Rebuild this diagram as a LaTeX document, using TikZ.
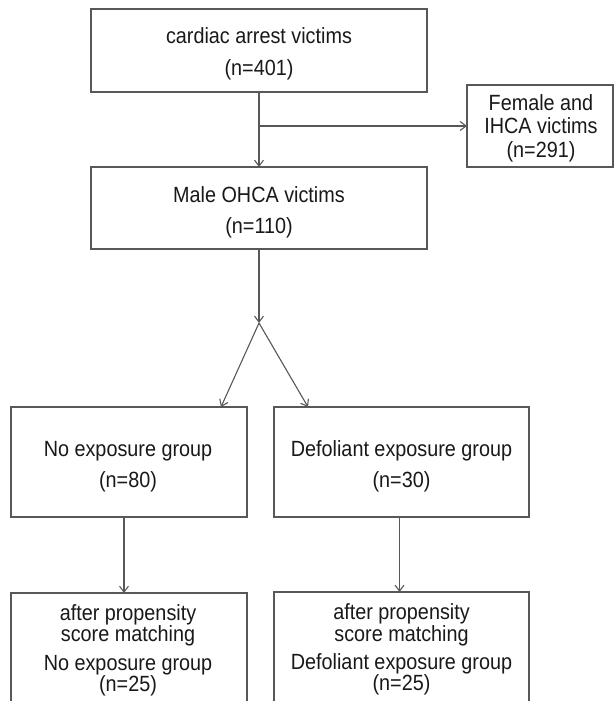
\documentclass[tikz,border=0pt]{standalone}
\usepackage{fontspec}
\setmainfont{Liberation Sans}[FakeStretch=0.9]
\usetikzlibrary{arrows.meta}
\definecolor{linegray}{RGB}{88,88,88}
\definecolor{textcol}{RGB}{25,25,25}
\begin{document}
\begin{tikzpicture}[x=1pt,y=-1pt,
  box/.style={draw=linegray, line width=1.2pt, inner sep=0pt, outer sep=0pt, rectangle},
  txt/.style={anchor=base, inner sep=0pt, text=textcol, font=\fontsize{22}{24}\selectfont},
  arr/.style={draw=linegray, line width=1.1pt, -{Straight Barb[length=6pt,width=9pt,line width=1.1pt]}},
  ln/.style={draw=linegray, line width=1.1pt}]
\useasboundingbox (0,0) rectangle (614,701);
\clip (0,0) rectangle (614,701);
\fill[white] (0,0) rectangle (614,701);
% boxes
\node[box, minimum width=336pt, minimum height=83pt] (top) at (259,50.5) {};
\node[box, minimum width=146pt, minimum height=82pt] (fem) at (540,126) {};
\node[box, minimum width=336pt, minimum height=82pt] (male) at (259,208) {};
\node[box, minimum width=236pt, minimum height=110pt] (mL) at (129,462) {};
\node[box, minimum width=255pt, minimum height=110pt] (mR) at (401.5,462) {};
\node[box, minimum width=236pt, minimum height=130pt] (bL) at (129,658) {};
\node[box, minimum width=255pt, minimum height=130pt] (bR) at (401.5,657) {};
% texts
\node[txt] (t1a) at (259,44) {cardiac arrest victims};
\node[txt] (t1b) at (259,75.5) {(n=401)};
\node[txt] (tfa) at (541,110) {Female and};
\node[txt] (tfb) at (541,133.5) {IHCA victims};
\node[txt] (tfc) at (541,157) {(n=291)};
\node[txt] (tma) at (259,202.5) {Male OHCA victims};
\node[txt] (tmb) at (259,233.5) {(n=110)};
\node[txt] (tla) at (128,456.5) {No exposure group};
\node[txt] (tlb) at (128,487) {(n=80)};
\node[txt] (tra) at (401.5,456.5) {Defoliant exposure group};
\node[txt] (trb) at (401.5,487) {(n=30)};
\node[txt] (bla) at (128,620) {after propensity};
\node[txt] (blb) at (128,641.5) {score matching};
\node[txt] (blc) at (128,670) {No exposure group};
\node[txt] (bld) at (128,691) {(n=25)};
\node[txt] (bra) at (401.5,619.5) {after propensity};
\node[txt] (brb) at (401.5,641) {score matching};
\node[txt] (brc) at (401.5,669.5) {Defoliant exposure group};
\node[txt] (brd) at (401.5,690) {(n=25)};
% connectors
\coordinate (split) at (259,126);
\coordinate (j) at (259,323);
\draw[arr] (top.south) -- (male.north);
\draw[arr] (split) -- (fem.west);
\draw[arr] (male.south) -- (j);
\draw[arr] (j) -- ([xshift=92pt]mL.north);
\draw[arr] (j) -- ([xshift=-93.5pt]mR.north);
\draw[arr] ([xshift=-5pt]mL.south) -- ([xshift=-5pt]bL.north);
\draw[arr] ([xshift=-2pt]mR.south) -- ([xshift=-2pt]bR.north);
\end{tikzpicture}
\end{document}
